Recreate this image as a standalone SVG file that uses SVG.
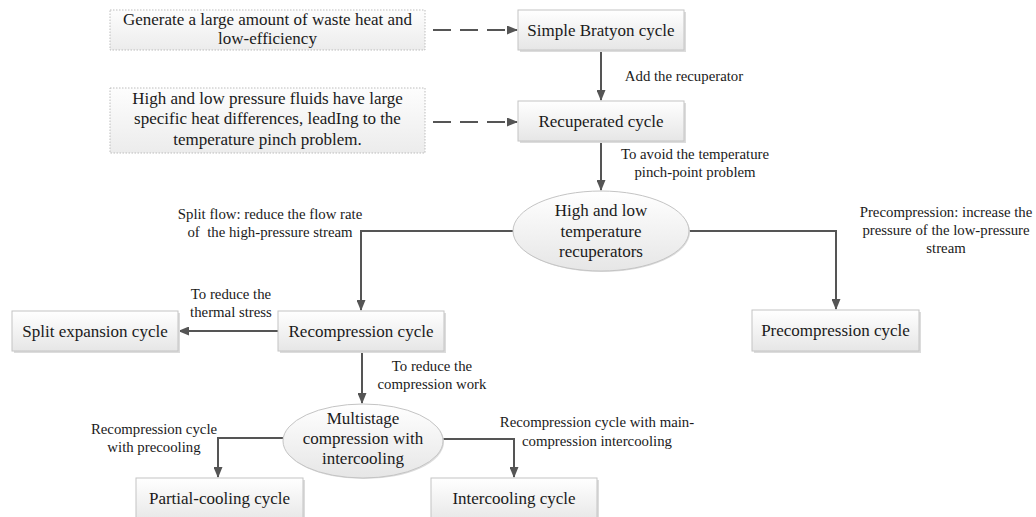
<svg xmlns="http://www.w3.org/2000/svg" width="1036" height="517" viewBox="0 0 1036 517">
  <defs>
    <linearGradient id="gBox" x1="0" y1="0" x2="0" y2="1">
      <stop offset="0" stop-color="#ffffff"/>
      <stop offset="1" stop-color="#e6e6e6"/>
    </linearGradient>
    <linearGradient id="gNote" x1="0" y1="0" x2="0" y2="1">
      <stop offset="0" stop-color="#fdfdfd"/>
      <stop offset="1" stop-color="#ececec"/>
    </linearGradient>
    <marker id="arr" markerUnits="userSpaceOnUse" markerWidth="11" markerHeight="9" refX="10" refY="4.5" orient="auto">
      <path d="M0,0 L11,4.5 L0,9 z" fill="#555555"/>
    </marker>
  </defs>
  <style>
    .box { fill: url(#gBox); stroke: #c4c4c4; stroke-width: 1; }
    .shadow { fill: #dcdcdc; }
    .note { fill: url(#gNote); stroke: #bdbdbd; stroke-width: 1; stroke-dasharray: 1.5 1.5; }
    .ell { fill: url(#gBox); stroke: #c4c4c4; stroke-width: 1; }
    .t { font-family: "Liberation Serif", "Times New Roman", serif; font-size: 17px; fill: #1a1a1a; text-anchor: middle; }
    .l { font-family: "Liberation Serif", "Times New Roman", serif; font-size: 14.8px; fill: #1a1a1a; text-anchor: middle; }
    .c { fill: none; stroke: #555555; stroke-width: 2; }
    .d { fill: none; stroke: #555555; stroke-width: 2; stroke-dasharray: 18 9; }
  </style>

  <g id="connectors">
    <path class="d" d="M433,30 L517,30" marker-end="url(#arr)"/>
    <path class="d" d="M433,122 L517,122" marker-end="url(#arr)"/>
    <path class="c" d="M601,51 L601,100" marker-end="url(#arr)"/>
    <path class="c" d="M601,142 L601,190" marker-end="url(#arr)"/>
    <path class="c" d="M513,231 L361,231 L361,310" marker-end="url(#arr)"/>
    <path class="c" d="M689,231 L836,231 L836,309" marker-end="url(#arr)"/>
    <path class="c" d="M278,331 L179,331" marker-end="url(#arr)"/>
    <path class="c" d="M362,352 L362,403" marker-end="url(#arr)"/>
    <path class="c" d="M283,438 L218,438 L218,477" marker-end="url(#arr)"/>
    <path class="c" d="M443,439 L514,439 L514,477" marker-end="url(#arr)"/>
  </g>

  <g id="labels">
    <text class="l" x="684" y="81">Add the recuperator</text>
    <text class="l" x="695" y="159">To avoid the temperature</text>
    <text class="l" x="695" y="177">pinch-point problem</text>
    <text class="l" x="270" y="219">Split flow: reduce the flow rate</text>
    <text class="l" x="270" y="237" xml:space="preserve">of  the high-pressure stream</text>
    <text class="l" x="946" y="217">Precompression: increase the</text>
    <text class="l" x="946" y="235">pressure of the low-pressure</text>
    <text class="l" x="946" y="253">stream</text>
    <text class="l" x="231" y="299">To reduce the</text>
    <text class="l" x="231" y="317">thermal stress</text>
    <text class="l" x="432" y="371">To reduce the</text>
    <text class="l" x="432" y="389">compression work</text>
    <text class="l" x="154" y="434">Recompression cycle</text>
    <text class="l" x="154" y="452">with precooling</text>
    <text class="l" x="597" y="427">Recompression cycle with main-</text>
    <text class="l" x="597" y="446">compression intercooling</text>
  </g>

  <g id="note1">
    <rect class="note" x="110" y="10" width="315" height="40"/>
    <text class="t" x="267.5" y="25">Generate a large amount of waste heat and</text>
    <text class="t" x="267.5" y="44">low-efficiency</text>
  </g>
  <g id="note2">
    <rect class="note" x="110" y="88" width="315" height="65"/>
    <text class="t" x="267.5" y="104">High and low pressure fluids have large</text>
    <text class="t" x="267.5" y="124">specific heat differences, leadIng to the</text>
    <text class="t" x="267.5" y="145">temperature pinch problem.</text>
  </g>
  <g id="simple">
    <rect class="shadow" x="520" y="12" width="166" height="40"/>
    <rect class="box" x="518" y="10" width="166" height="40"/>
    <text class="t" x="601" y="36">Simple Bratyon cycle</text>
  </g>
  <g id="recuperated">
    <rect class="shadow" x="520" y="103" width="166" height="40"/>
    <rect class="box" x="518" y="101" width="166" height="40"/>
    <text class="t" x="601" y="127">Recuperated cycle</text>
  </g>
  <g id="hltr">
    <ellipse class="shadow" cx="602" cy="232" rx="88" ry="40"/>
    <ellipse class="ell" cx="601" cy="231" rx="88" ry="40"/>
    <text class="t" x="601" y="216">High and low</text>
    <text class="t" x="601" y="237">temperature</text>
    <text class="t" x="601" y="257">recuperators</text>
  </g>
  <g id="recompression">
    <rect class="shadow" x="280" y="313" width="166" height="40"/>
    <rect class="box" x="278" y="311" width="166" height="40"/>
    <text class="t" x="361" y="337">Recompression cycle</text>
  </g>
  <g id="precompression">
    <rect class="shadow" x="754" y="312" width="167" height="41"/>
    <rect class="box" x="752" y="310" width="167" height="41"/>
    <text class="t" x="835.5" y="336">Precompression cycle</text>
  </g>
  <g id="splitexp">
    <rect class="shadow" x="14" y="313" width="166" height="40"/>
    <rect class="box" x="12" y="311" width="166" height="40"/>
    <text class="t" x="95" y="337">Split expansion cycle</text>
  </g>
  <g id="multistage">
    <ellipse class="shadow" cx="364" cy="442" rx="80" ry="37"/>
    <ellipse class="ell" cx="363" cy="441" rx="80" ry="37"/>
    <text class="t" x="363" y="424">Multistage</text>
    <text class="t" x="363" y="444">compression with</text>
    <text class="t" x="363" y="464">intercooling</text>
  </g>
  <g id="partial">
    <rect class="shadow" x="138" y="480" width="167" height="45"/>
    <rect class="box" x="136" y="478" width="167" height="45"/>
    <text class="t" x="219.5" y="504">Partial-cooling cycle</text>
  </g>
  <g id="intercooling">
    <rect class="shadow" x="433" y="480" width="166" height="45"/>
    <rect class="box" x="431" y="478" width="166" height="45"/>
    <text class="t" x="514" y="504">Intercooling cycle</text>
  </g>
</svg>
